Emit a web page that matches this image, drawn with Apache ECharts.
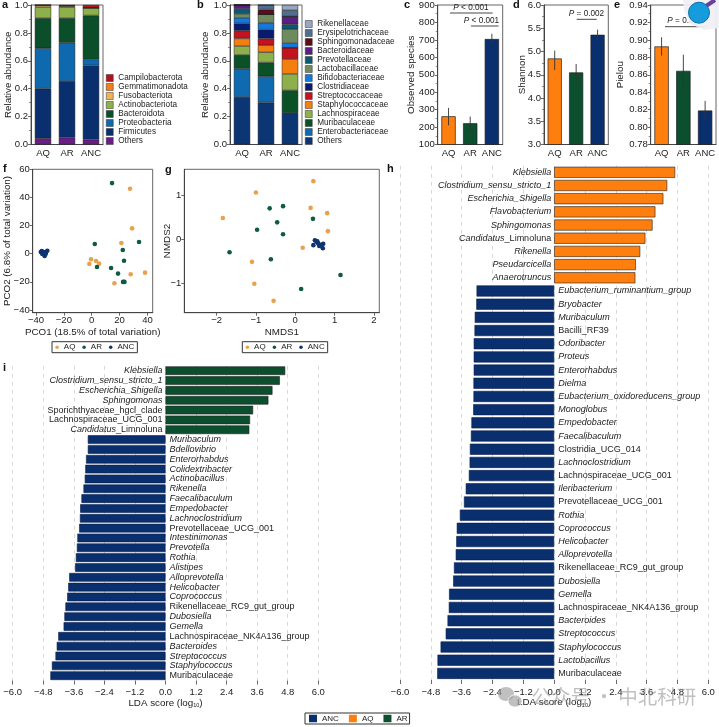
<!DOCTYPE html>
<html><head><meta charset="utf-8">
<style>html,body{margin:0;padding:0;background:#fff}#c{width:719px;height:727px}</style>
<script src="https://cdn.jsdelivr.net/npm/echarts@6/dist/echarts.min.js"></script>
</head><body><div id="c"></div>
<script>
// ---------- data ----------
const groups = ['AQ','AR','ANC'];
const phylumNames = ['Others','Firmicutes','Proteobacteria','Bacteroidota','Actinobacteriota','Fusobacteriota','Gemmatimonadota','Campilobacterota'];
const phylumAQ  = [.045,.355,.29,.215,.08,.013,.001,.001];
const phylumAR  = [.05,.405,.275,.175,.08,.008,.002,.005];
const phylumANC = [.035,.532,.043,.315,.055,0,0,.02];
const phylumColors = ['#6A1D85','#0A2F6E','#0E69AE','#0B4F2A','#8DB04B','#F0B35A','#F57F17','#B5121B'];
const familyNames = ['Others','Enterobacteriaceae','Muribaculaceae','Lachnospiraceae','Staphylococcaceae','Streptococcaceae','Clostridiaceae','Bifidobacteriaceae','Lactobacillaceae','Prevotellaceae','Bacteroidaceae','Sphingomonadaceae','Erysipelotrichaceae','Rikenellaceae'];
const familyAQ  = [.341,.203,.098,.064,.054,.056,.052,.040,.028,.036,.028,0,0,0];
const familyAR  = [.301,.188,.099,.073,.05,.049,.064,.049,.061,0,0,.033,.033,0];
const familyANC = [.224,.002,.162,.118,.106,.082,0,.033,.099,.035,.057,0,.044,.038];
const familyColors = ['#0B3573','#0F6AB0','#0B5128','#8DB04B','#F57F0E','#C4121F','#0A1A6E','#1479DB','#6F8B5D','#0A5A70','#5A1F83','#5B0F14','#4E6E92','#98A6C6'];
const observedMean = [262,222,705];
const observedErr  = [[210,310],[180,260],[675,735]];
const shannonMean  = [4.85,4.55,5.36];
const shannonErr   = [[4.6,5.02],[4.36,4.73],[5.23,5.47]];
const pielouMean   = [.8925,.8645,.819];
const pielouErr    = [[.882,.903],[.846,.883],[.807,.83]];
const pcoaAQ  = [[27.5,46.2],[29,18],[21.3,7.6],[-.5,-4],[3.1,-5.2],[5.3,-7.1],[-1.7,-7.3],[28,-14.7],[38.3,-13.5],[16.3,-21]];
const pcoaAR  = [[14.6,50.2],[2.2,6.9],[34,8.3],[22.3,2.6],[23.2,-5],[3.8,-9.5],[13.9,-10.2],[18.9,-14.2],[22.5,-20.1],[23.5,-20.1]];
const pcoaANC = [[-36.6,1.2],[-35.2,.5],[-34,-.7],[-33,0],[-31.9,2.1],[-33.8,-1.7],[-34.7,1.2],[-35.9,1.9],[-33.3,.9],[-35.5,-.2]];
const nmdsAQ  = [[.46,1.32],[-1,1.06],[.39,.71],[.81,.59],[-1.84,.48],[.83,.18],[.19,-.2],[-1.1,-.52],[-1.04,-1.02],[-.55,-1.41]];
const nmdsAR  = [[-.31,.75],[-.65,.7],[.45,.46],[-.46,.38],[-.97,.21],[-.31,.11],[-1.67,-.3],[-.62,-.46],[1.15,-.82],[.15,-1.14]];
const nmdsANC = [[.46,-.14],[.5,-.03],[.54,-.06],[.58,-.1],[.63,-.13],[.67,-.14],[.71,-.11],[.7,-.21],[.56,-.05],[.61,-.16]];
const iNames = ['Klebsiella','Clostridium_sensu_stricto_1','Escherichia_Shigella','Sphingomonas','Sporichthyaceae_hgcl_clade','Lachnospiraceae_UCG_001','Candidatus_Limnoluna','Muribaculum','Bdellovibrio','Enterorhabdus','Colidextribacter','Actinobacillus','Rikenella','Faecalibaculum','Empedobacter','Lachnoclostridium','Prevotellaceae_UCG_001','Intestinimonas','Prevotella','Rothia','Alistipes','Alloprevotella','Helicobacter','Coprococcus','Rikenellaceae_RC9_gut_group','Dubosiella','Gemella','Lachnospiraceae_NK4A136_group','Bacteroides','Streptococcus','Staphylococcus','Muribaculaceae'];
const iValues = [4.70,4.49,4.20,4.04,3.44,3.32,3.29,-3.05,-3.05,-3.12,-3.15,-3.17,-3.22,-3.30,-3.35,-3.36,-3.39,-3.46,-3.48,-3.52,-3.55,-3.78,-3.82,-3.86,-3.93,-3.97,-4.0,-4.21,-4.27,-4.32,-4.46,-4.52];
const hNames = ['Klebsiella','Clostridium_sensu_stricto_1','Escherichia_Shigella','Flavobacterium','Sphingomonas','Candidatus_Limnoluna','Rikenella','Pseudarcicella','Anaerotruncus','Eubacterium_ruminantium_group','Bryobacter','Muribaculum','Bacilli_RF39','Odoribacter','Proteus','Enterorhabdus','Dielma','Eubacterium_oxidoreducens_group','Monoglobus','Empedobacter','Faecalibaculum','Clostridia_UCG_014','Lachnoclostridium','Lachnospiraceae_UCG_001','Ileribacterium','Prevotellaceae_UCG_001','Rothia','Coprococcus','Helicobacter','Alloprevotella','Rikenellaceae_RC9_gut_group','Dubosiella','Gemella','Lachnospiraceae_NK4A136_group','Bacteroides','Streptococcus','Staphylococcus','Lactobacillus','Muribaculaceae'];
const hValues = [4.71,4.40,4.25,3.94,3.83,3.55,3.35,3.18,3.16,-3.02,-3.03,-3.09,-3.10,-3.13,-3.13,-3.13,-3.14,-3.14,-3.15,-3.22,-3.24,-3.28,-3.29,-3.32,-3.44,-3.51,-3.67,-3.79,-3.81,-3.83,-3.90,-3.93,-4.09,-4.10,-4.15,-4.22,-4.42,-4.54,-4.55];
const uprightNames = ['Sporichthyaceae_hgcl_clade','Lachnospiraceae_UCG_001','Prevotellaceae_UCG_001','Rikenellaceae_RC9_gut_group','Lachnospiraceae_NK4A136_group','Muribaculaceae','Bacilli_RF39','Clostridia_UCG_014'];
const panelLetters = ['a','b','c','d','e','f','g','h','i'];

// ---------- style ----------
const FONT = '"Liberation Sans", Arial, sans-serif';
const INK = '#222', FRAME = '#666';
const ORANGE = '#FF7F0E', GREEN = '#0B4F2E', NAVY = '#0A2F6E';
const DOT_AQ = '#E8A24F', DOT_AR = '#0E5A42', DOT_ANC = '#0D3470';
const minus = s => String(s).replace('-', '\u2212');

const grids = [
  {left:31,top:2.5,width:72,height:142},
  {left:230,top:2.5,width:72,height:142},
  {left:437.7,top:2.5,width:65,height:142},
  {left:544,top:2.5,width:64.3,height:142},
  {left:650.7,top:2.5,width:65.3,height:142},
  {left:32.7,top:169.3,width:120,height:143.4},
  {left:184.3,top:169.3,width:195,height:143.4},
  {left:12.7,top:365.8,width:305.6,height:314.8},
  {left:400,top:165.7,width:308.3,height:514.3}
].map(g => Object.assign({show:true, borderColor:FRAME, borderWidth:1}, g));
grids[7].show = false; grids[8].show = false;

const axisBase = {
  axisLine:{show:true,onZero:false,lineStyle:{color:'#444',width:1}},
  axisTick:{show:true,length:3,lineStyle:{color:'#444',width:.8}},
  axisLabel:{fontFamily:FONT,fontSize:9.5,color:INK,margin:3},
  splitLine:{show:false},
  nameTextStyle:{fontFamily:FONT,fontSize:9.8,color:INK},
  nameLocation:'middle',
  nameMoveOverlap:false
};
const catAxis = i => Object.assign({}, axisBase, {gridIndex:i,type:'category',data:groups,
  axisTick:{show:false}, axisLabel:{...axisBase.axisLabel,margin:4,interval:0,hideOverlap:false}});
const valAxis = (i,name,gap,min,max,interval,dec,minor) => Object.assign({}, axisBase, {
  gridIndex:i,type:'value',name,nameGap:gap,min,max,interval,
  minorTick:{show:true,splitNumber:minor||2,length:2,lineStyle:{color:'#444',width:.6}},
  minorSplitLine:{show:false},
  axisLabel:{...axisBase.axisLabel,formatter:v=>v.toFixed(dec)}});
const scatterAxis = (i,name,gap,min,max,ticks) => Object.assign({}, axisBase, {
  gridIndex:i,type:'value',name,nameGap:gap,min,max,
  axisTick:{...axisBase.axisTick,customValues:ticks},
  axisLabel:{...axisBase.axisLabel,customValues:ticks,formatter:v=>minus(v),showMinLabel:true,showMaxLabel:true}});
const ldaX = (i) => Object.assign({}, axisBase, {
  gridIndex:i,type:'value',min:-6,max:6,interval:1.2,
  axisLine:{show:false},
  axisTick:{show:true,length:4,lineStyle:{color:'#444',width:.8}},
  axisLabel:{...axisBase.axisLabel,margin:7,formatter:v=>minus(v.toFixed(1))},
  splitLine:{show:true,lineStyle:{color:'#cfcfcf',type:[4,4],width:.8}},
  name:'{n|LDA score (log}{s|10}{n|)}',nameGap:17,
  nameTextStyle:{rich:{n:{fontFamily:FONT,fontSize:9.8,color:INK},s:{fontFamily:FONT,fontSize:5.5,color:INK,verticalAlign:'bottom',padding:[5,0,0,0]}}}});
const ldaY = (i,names) => ({gridIndex:i,type:'category',data:names,inverse:true,show:false});

const xAxes = [catAxis(0),catAxis(1),catAxis(2),catAxis(3),catAxis(4),
  scatterAxis(5,'PCO1 (18.5% of total variation)',15,-42.4,43.8,[-40,-20,0,20,40]),
  scatterAxis(6,'NMDS1',15,-2.82,2.136,[-2,-1,0,1,2]),
  ldaX(7),ldaX(8)];
const yAxes = [
  valAxis(0,'Relative abundance',18,0,1,.2,1),
  valAxis(1,'Relative abundance',20,0,1,.2,1),
  valAxis(2,'Observed species',21,100,900,100,0),
  valAxis(3,'Shannon',17,3,6,.5,1),
  valAxis(4,'Pielou',25,.78,.94,.02,2),
  scatterAxis(5,'PCO2 (6.8% of total variation)',20,-42,60,[-40,-20,0,20,40,60]),
  scatterAxis(6,'NMDS2',12,-1.68,1.59,[-1,0,1]),
  ldaY(7,iNames),ldaY(8,hNames)];

// ---------- series ----------
const series = [];
function stacked(idx, names, cols, colors, key){
  names.forEach((n,k)=>series.push({type:'bar',name:n,xAxisIndex:idx,yAxisIndex:idx,stack:key,barWidth:'68%',
    data:cols.map(c=>c[k]),itemStyle:{color:colors[k],borderColor:'#1a1a1a',borderWidth:.5}}));
}
stacked(0,phylumNames,[phylumAQ,phylumAR,phylumANC],phylumColors,'a');
stacked(1,familyNames,[familyAQ,familyAR,familyANC],familyColors,'b');

function alpha(idx, means, errs){
  series.push({type:'bar',xAxisIndex:idx,yAxisIndex:idx,barWidth:'66%',
    data:means.map((v,k)=>({value:v,itemStyle:{color:[ORANGE,GREEN,NAVY][k],borderColor:'#222',borderWidth:.7}}))});
  series.push({type:'custom',xAxisIndex:idx,yAxisIndex:idx,z:5,silent:true,
    data:errs.map((e,k)=>[k,e[0],e[1]]),
    encode:{x:0,y:[1,2]},
    renderItem:(p,api)=>{const a=api.coord([api.value(0),api.value(1)]),b=api.coord([api.value(0),api.value(2)]);
      return {type:'line',shape:{x1:a[0],y1:a[1],x2:b[0],y2:b[1]},style:{stroke:'#333',lineWidth:.9}};}});
}
alpha(2,observedMean,observedErr);
alpha(3,shannonMean,shannonErr);
alpha(4,pielouMean,pielouErr);

function dots(idx,name,data,color){
  series.push({type:'scatter',name,xAxisIndex:idx,yAxisIndex:idx,data,symbolSize:4.6,itemStyle:{color,opacity:1}});
}
dots(5,'AQ',pcoaAQ,DOT_AQ);dots(5,'AR',pcoaAR,DOT_AR);dots(5,'ANC',pcoaANC,DOT_ANC);
dots(6,'AQ',nmdsAQ,DOT_AQ);dots(6,'AR',nmdsAR,DOT_AR);dots(6,'ANC',nmdsANC,DOT_ANC);

function taxonLabel(n){
  if(uprightNames.includes(n)) return '{n|'+n+'}';
  if(n.startsWith('Candidatus_')) return '{i|Candidatus}{n|'+n.slice(10)+'}';
  return '{i|'+n+'}';
}
const labelRich = {i:{fontFamily:FONT,fontSize:9,fontStyle:'italic',color:INK},n:{fontFamily:FONT,fontSize:9,color:INK}};
function lda(idx,names,values,upName,upColor,bw){
  const lab = (pos,dist)=>({show:true,position:pos,distance:dist,rich:labelRich,formatter:p=>taxonLabel(names[p.dataIndex])});
  series.push({type:'bar',name:upName,xAxisIndex:idx,yAxisIndex:idx,stack:'l'+idx,barWidth:bw,
    data:values.map(v=>v>0?v:'-'),label:lab('left',3),itemStyle:{color:upColor,borderColor:'#222',borderWidth:.6}});
  series.push({type:'bar',name:'ANC',xAxisIndex:idx,yAxisIndex:idx,stack:'l'+idx,barWidth:bw,
    data:values.map(v=>v<0?v:'-'),label:lab('right',4),itemStyle:{color:NAVY,borderColor:'#0a1f4a',borderWidth:.6}});
}
lda(7,iNames,iValues,'AR',GREEN,'88%');
lda(8,hNames,hValues,'AQ',ORANGE,'84%');

// ---------- legends ----------
const vLegend = (names,colors,left,top)=>({left,top,orient:'vertical',padding:0,itemGap:0,itemWidth:7,itemHeight:7,selectedMode:false,
  data:names.slice().reverse().map(n=>({name:n,icon:'rect',itemStyle:{color:colors[names.indexOf(n)],borderColor:'#333',borderWidth:.5,opacity:1}})),
  textStyle:{fontFamily:FONT,fontSize:8.2,color:INK,lineHeight:9}});
const dotLegend = (left,top)=>({left,top,orient:'horizontal',padding:[1.5,3,1.5,3.3],itemGap:7,itemWidth:3.5,itemHeight:3.5,selectedMode:false,
  borderColor:'#333',borderWidth:1,
  data:[{name:'AQ',icon:'circle',itemStyle:{color:DOT_AQ,opacity:1}},{name:'AR',icon:'circle',itemStyle:{color:DOT_AR,opacity:1}},{name:'ANC',icon:'circle',itemStyle:{color:DOT_ANC,opacity:1}}],
  textStyle:{fontFamily:FONT,fontSize:8,color:INK,lineHeight:8}});
const legends = [
  vLegend(phylumNames,phylumColors,106,73.5),
  vLegend(familyNames,familyColors,305,19.5),
  dotLegend(52,341.7),
  dotLegend(242.3,341.7),
  {left:305,top:713,orient:'horizontal',padding:[1.5,2,1.5,4],itemGap:10,itemWidth:8,itemHeight:7.5,selectedMode:false,
   borderColor:'#333',borderWidth:1,
   data:[{name:'ANC',icon:'rect',itemStyle:{color:NAVY,opacity:1}},{name:'AQ',icon:'rect',itemStyle:{color:ORANGE,opacity:1}},{name:'AR',icon:'rect',itemStyle:{color:GREEN,opacity:1}}],
   textStyle:{fontFamily:FONT,fontSize:8,color:INK,lineHeight:8}}
];

// ---------- titles (panel letters) ----------
const letterPos = {a:[2,-1],b:[197,-1],c:[404,-1],d:[513,-1],e:[614,-1],f:[3,163],g:[165,164],h:[387,163],i:[3,362]};
const titles = panelLetters.map(l=>({text:l,left:letterPos[l][0],top:letterPos[l][1],padding:0,
  textStyle:{fontFamily:FONT,fontSize:11,fontWeight:'bold',color:'#111'}}));

// ---------- annotations ----------
const pText = (x,y,t)=>({type:'text',z:20,style:{x,y,text:t,align:'center',verticalAlign:'middle',fontFamily:FONT,fontSize:8.2,fill:INK,
  rich:{i:{fontFamily:FONT,fontSize:8.2,fontStyle:'italic',fill:INK}}}});
const pLine = (x1,x2,y)=>({type:'line',z:20,shape:{x1,y1:y,x2,y2:y},style:{stroke:'#333',lineWidth:.9}});
const graphic = [
  pLine(450,492.6,13),pText(471,7.3,'{i|P} < 0.001'),
  pLine(471,498.5,26),pText(481.5,20.7,'{i|P} < 0.001'),
  pLine(576.7,596.7,19.3),pText(586.5,13.3,'{i|P} = 0.002'),
  pLine(665,705,26.7),pText(685,20.7,'{i|P} = 0.002'),
  // magnifier badge over panel e
  {type:'polygon',z:30,shape:{points:[[683,0],[719,0],[719,28],[705,30],[690,24],[684,10]]},style:{fill:'rgba(240,240,244,.93)'}},
  {type:'line',z:31,shape:{x1:706,y1:6,x2:715,y2:0},style:{stroke:'#6b3f9e',lineWidth:4}},
  {type:'circle',z:32,shape:{cx:699,cy:12.7,r:10.5},style:{fill:'#169BDD',stroke:'#0a6fa8',lineWidth:1}},
  // watermark
  {type:'ellipse',z:40,shape:{cx:506,cy:694,rx:8,ry:7},style:{fill:'rgba(150,150,150,.6)'}},
  {type:'ellipse',z:41,shape:{cx:515,cy:701,rx:7,ry:6},style:{fill:'rgba(165,165,165,.7)',stroke:'#fff',lineWidth:.8}},
  {type:'text',z:40,style:{x:531.5,y:697,text:'公众号 · 中北科研',verticalAlign:'middle',fontFamily:'"Noto Sans CJK SC"',fontSize:19.5,fill:'rgba(140,140,140,.55)'}}
];

const chart = echarts.init(document.getElementById('c'),null,{renderer:'canvas'});
chart.setOption({animation:false,backgroundColor:'#fff',title:titles,grid:grids,xAxis:xAxes,yAxis:yAxes,series,legend:legends,graphic:{elements:graphic},tooltip:{show:false}});
</script></body></html>
